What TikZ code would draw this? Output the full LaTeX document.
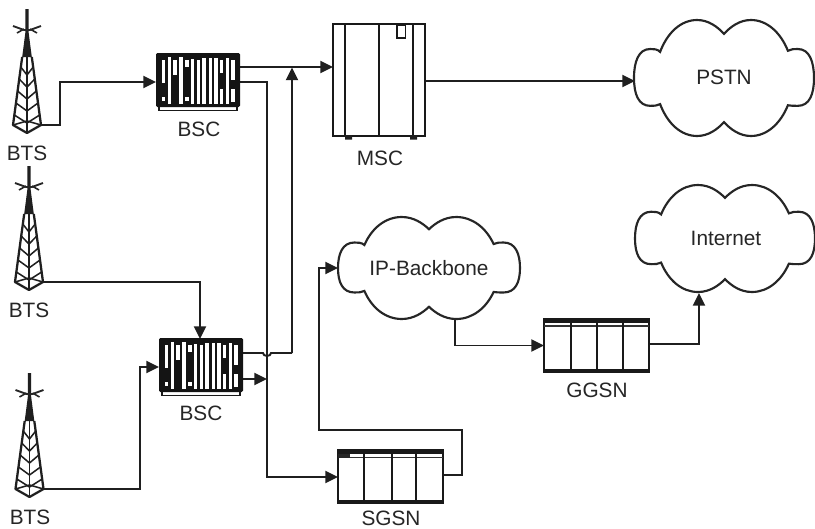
\documentclass[tikz,border=0pt]{standalone}
\usepackage{fontspec}
\setmainfont{Liberation Sans}
\usetikzlibrary{arrows.meta}
\tikzset{
 wire/.style={line width=1.45pt,black!88,-{Triangle[length=9.5pt,width=9pt]}},
 plainwire/.style={line width=1.45pt,black!88},
 lab/.style={font=\fontsize{15.6}{17}\selectfont,text=black!85,inner sep=0pt,anchor=center},
 cloudline/.style={line width=1.6pt,black!85,fill=white},
 eq/.style={line width=1.5pt,black!90},
 lattice/.style={line width=1.15pt,black!88},
}
\newcommand{\tower}[3]{% name, x center, y tip
\begin{scope}[shift={(#2,#3)}]
 \coordinate (#1) at (14,-8);
 \fill[black!88] (-1.5,-124) -- (1.5,-124) -- (1.7,-100) -- (4.8,-76) -- (-4.8,-76) -- (-1.7,-100) -- cycle;
 \draw[line width=1.4pt,black!85] (-14,-107) -- (-3,-103) -- (3,-103) -- (14,-107);
 \draw[line width=1.2pt,black!85] (-10,-100)--(-3,-104) (10,-100)--(3,-104);
 \draw[line width=1.7pt,black!88,line join=round] (-4.8,-76) -- (-14,-8) -- (0,0) -- (14,-8) -- (4.8,-76);
 \draw[lattice] (0,-76) -- (0,0);
 \foreach \ya/\w in {-66/6.2,-54/7.8,-42/9.4,-30/11,-18/12.7}{
  \draw[lattice] (-\w,\ya) -- (0,\ya+8) -- (\w,\ya);
 }
 \draw[lattice] (-14,-8) -- (0,-12) -- (14,-8);
\end{scope}}
\newcommand{\bscbox}[3]{% name, left, top
\begin{scope}[shift={(#2,#3)}]
 \draw[line width=1.2pt,black!90,fill=white] (3,52) rectangle (81,57.5);
 \fill[black!92,rounded corners=1pt] (0,0) rectangle (84,54);
 \foreach \xa/\ya/\yb in {
   5.5/7/30, 5.5/44/48,
   11.5/4/51,
   17.2/7/22,
   23/4/51,
   29/7/14, 29/44/48,
   34.6/6/51,
   40.5/7/51,
   46.2/5/51,
   52.5/5/51,
   58/5/51,
   63.8/7/20, 63.8/36/51,
   69.6/5/51,
   75.4/7/27, 75.4/36/49}{
   \fill[white] (\xa,\ya) rectangle (\xa+3.6,\yb);}
\end{scope}}
\newcommand{\rackunit}[5]{% left, top, div1, div2, div3
\begin{scope}[shift={(#1,#2)}]
 \draw[eq] (0,0) rectangle (105,53);
 \fill[black!90] (0,0) rectangle (105,4);
 \fill[black!90] (0,50) rectangle (105,54);
 \draw[line width=.8pt,black!80] (0,7.5) -- (105,7.5);
 \foreach \x in {#3,#4,#5} \draw[eq] (\x,0) -- (\x,53);
\end{scope}}
\newcommand{\cloudshape}[4]{% cx, cy, a, b
\draw[cloudline,shift={(#1,#2)},x=#3*0.75pt,y=-#4*0.75pt]
 (-1,0) .. controls (-1,-.28) and (-.95,-.5) .. (-.82,-.5)
 .. controls (-.78,-.5) and (-.74,-.5) .. (-.71,-.45)
 .. controls (-.63,-.78) and (-.48,-1) .. (-.3,-1)
 .. controls (-.17,-1) and (-.07,-.88) .. (0,-.76)
 .. controls (.07,-.88) and (.17,-1) .. (.3,-1)
 .. controls (.48,-1) and (.63,-.78) .. (.71,-.47)
 .. controls (.74,-.5) and (.78,-.5) .. (.82,-.5)
 .. controls (.95,-.5) and (1,-.28) .. (1,0)
 .. controls (1,.28) and (.95,.48) .. (.82,.48)
 .. controls (.78,.48) and (.74,.48) .. (.71,.47)
 .. controls (.63,.78) and (.48,1) .. (.3,1)
 .. controls (.17,1) and (.07,.88) .. (0,.76)
 .. controls (-.07,.88) and (-.17,1) .. (-.3,1)
 .. controls (-.48,1) and (-.63,.78) .. (-.71,.45)
 .. controls (-.74,.48) and (-.78,.48) .. (-.82,.48)
 .. controls (-.95,.48) and (-1,.28) .. (-1,0) -- cycle;}
\begin{document}
\begin{tikzpicture}[x=0.75pt,y=-0.75pt]
\useasboundingbox[fill=white] (0,0) rectangle (815,529);
% towers
\tower{t1}{27}{133}
\tower{t2}{29}{290}
\tower{t3}{29.5}{497}
\node[lab] (l1) at (27,153) {BTS};
\node[lab] (l2) at (29,310) {BTS};
\node[lab] (l3) at (30,517) {BTS};
% connection points
\coordinate (bsc1w) at (156,82);
\coordinate (bsc1a) at (240,67);
\coordinate (bsc1b) at (240,82);
\coordinate (bsc2w) at (159,367);
\coordinate (bsc2n) at (200,339);
\coordinate (bsc2a) at (243,353);
\coordinate (bsc2b) at (243,379);
\coordinate (mscw) at (333,67);
\coordinate (msce) at (425,81);
\coordinate (jun) at (292,67.5);
\coordinate (jun2) at (267,379);
\coordinate (sgw) at (338,477);
\coordinate (sge) at (443,475);
\coordinate (ggw) at (544,345.5);
\coordinate (gge) at (649,344);
\coordinate (ipw) at (338,268);
\coordinate (ips) at (455,318);
\coordinate (pstnw) at (635,81);
\coordinate (inets) at (699,293);
% connectors
\draw[wire] (t1) -- (60,125) -- (60,82) -- (bsc1w);
\draw[wire] (t2) -- (200,282) -- (bsc2n);
\draw[wire] (t3) -- (140,489) -- (140,367) -- (bsc2w);
\draw[wire] (bsc1a) -- (mscw);
\draw[plainwire] (bsc1b) -- (267,82) -- (jun2);
\draw[wire] (bsc2b) -- (jun2);
\draw[wire] (jun2) -- (267,477) -- (sgw);
\draw[plainwire] (bsc2a) -- (263,353) arc (180:0:4 and 3) -- (292,353);
\draw[wire] (292,353) -- (jun);
\draw[wire] (msce) -- (pstnw);
\draw[wire] (sge) -- (462,475) -- (462,430) -- (319,430) -- (319,268) -- (ipw);
\draw[wire] (ips) -- (455,345.5) -- (ggw);
\draw[wire] (gge) -- (699,344) -- (inets);
% equipment
\bscbox{b1}{156}{53}
\bscbox{b2}{159}{338}
\node[lab] (lb1) at (199,129) {BSC};
\node[lab] (lb2) at (201,413) {BSC};
% MSC
\draw[eq] (333,23.5) rectangle (425,136);
\draw[eq] (345,23.5) -- (345,136) (379,23.5) -- (379,136) (413,23.5) -- (413,136);
\draw[line width=1.2pt,black!90] (397,25) rectangle (405.5,38);
\fill[black!88] (345,135) rectangle (352,139.5) (410,135) rectangle (417,139.5);
\node[lab] (lm) at (380,158) {MSC};
% SGSN GGSN
\rackunit{338}{450}{26}{54}{78}
\fill[black!85] (338,454) rectangle (350,458);
\node[lab] (ls) at (391,518.5) {SGSN};
\rackunit{544}{318.5}{27}{53}{79}
\node[lab] (lg) at (597,390) {GGSN};
% clouds
\cloudshape{724}{78}{90}{58}
\node[lab] (c1) at (724,77) {PSTN};
\cloudshape{725}{238.5}{90}{53.5}
\node[lab] (c2) at (726,238) {Internet};
\cloudshape{429}{268}{91}{51}
\node[lab] (c3) at (429,268) {IP-Backbone};
\end{tikzpicture}
\end{document}
